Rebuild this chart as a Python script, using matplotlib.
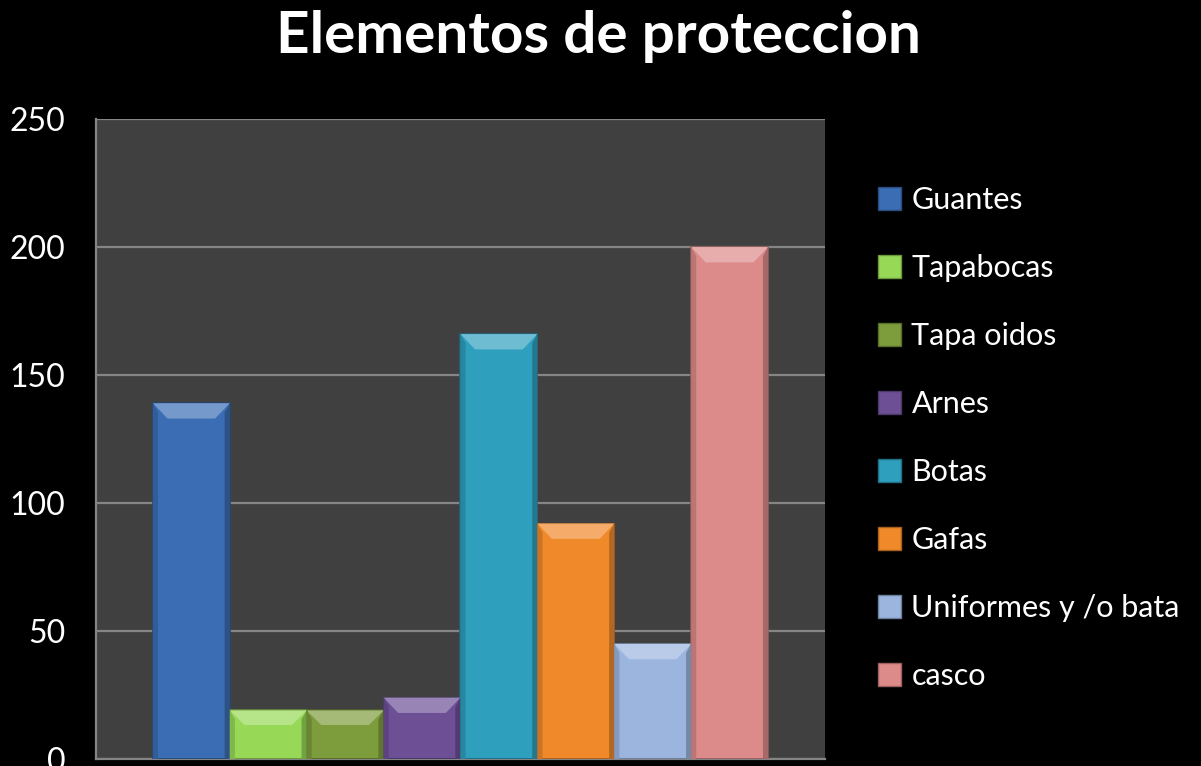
import matplotlib.pyplot as plt
import matplotlib.colors as mcolors
from matplotlib.patches import Patch, Polygon

categories = ["Guantes", "Tapabocas", "Tapa oidos", "Arnes", "Botas", "Gafas",
              "Uniformes y /o bata", "casco"]
values = [139, 19, 19, 24, 166, 92, 45, 200]
colors = ["#3a6db3", "#97d957", "#7d9d3c", "#6c4f95", "#2e9fbd", "#f0892a",
          "#9bb5df", "#dd8a8a"]
yticks = [0, 50, 100, 150, 200, 250]


def shade(color, amount):
    rgb = mcolors.to_rgb(color)
    if amount >= 0:
        return tuple(c + (1 - c) * amount for c in rgb)
    return tuple(c * (1 + amount) for c in rgb)


def bevel_bar(ax, x, height, color, width=1.0):
    left, right = x - width / 2, x + width / 2
    dx = width * 0.19
    dy = min(6.0, height * 0.3)
    ax.bar(x, height, width=width, color=color, edgecolor=shade(color, -0.35),
           linewidth=1.2, zorder=3)
    # top bevel highlight
    ax.add_patch(Polygon([(left, height), (right, height),
                          (right - dx, height - dy), (left + dx, height - dy)],
                         closed=True, facecolor=shade(color, 0.3),
                         edgecolor="none", zorder=4))
    # darker side edges
    side = dx * 0.35
    ax.add_patch(Polygon([(left, 0), (left, height), (left + side, height - dy * 0.6),
                          (left + side, 0)], closed=True,
                         facecolor=shade(color, -0.15), edgecolor="none", zorder=4))
    ax.add_patch(Polygon([(right, 0), (right, height), (right - side, height - dy * 0.6),
                          (right - side, 0)], closed=True,
                         facecolor=shade(color, -0.25), edgecolor="none", zorder=4))


fig = plt.figure(figsize=(12.01, 7.66), dpi=100, facecolor="black")
ax = fig.add_axes([0.0799, 0.0091, 0.607, 0.8355], facecolor="#404040")

for i, (val, col) in enumerate(zip(values, colors)):
    bevel_bar(ax, i, val, col)

ax.set_ylim(0, 250)
ax.set_xlim(-0.5 - 0.74, len(values) - 0.5 + 0.74)
ax.set_yticks(yticks)
ax.set_yticklabels([str(t) for t in yticks], fontsize=23, color="white",
                   family=["Lato", "DejaVu Sans"])
ax.tick_params(axis="y", length=0, pad=22)
ax.set_xticks([])
ax.grid(axis="y", color="#858585", linewidth=1.6, zorder=0)
ax.set_axisbelow(True)
for name, spine in ax.spines.items():
    spine.set_color("#858585")
    spine.set_linewidth(1.6)
ax.spines["right"].set_visible(False)
ax.spines["top"].set_visible(False)

fig.text(0.498, 0.952, "Elementos de proteccion", color="white", fontsize=42,
         fontweight="bold", ha="center", va="center", family=["Lato", "DejaVu Sans"])

handles = [Patch(facecolor=c, edgecolor=shade(c, -0.3)) for c in colors]
leg = fig.legend(handles, categories, loc="upper left", bbox_to_anchor=(0.708, 0.793),
                 frameon=False, labelcolor="white",
                 handlelength=0.75, handleheight=0.75, handletextpad=0.35,
                 labelspacing=1.31, prop={"family": ["Lato", "DejaVu Sans"], "size": 22})

fig.savefig("out.png", dpi=100, facecolor="black")
